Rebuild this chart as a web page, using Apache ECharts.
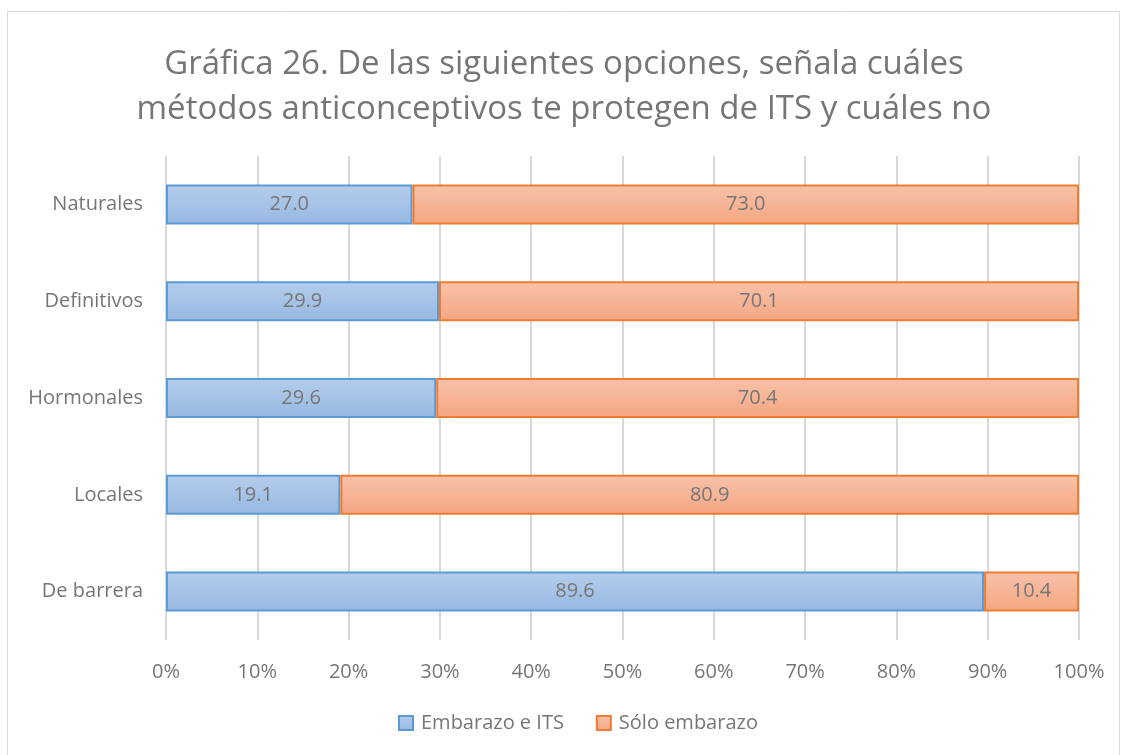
<!DOCTYPE html>
<html>
<head>
<meta charset="utf-8">
<script src="https://cdn.jsdelivr.net/npm/echarts@6/dist/echarts.min.js"></script>
<style>
  html, body { margin: 0; padding: 0; background: #fff; }
  #main { width: 1128px; height: 755px; }
</style>
</head>
<body>
<div id="main"></div>
<script>
// categorias (de abajo hacia arriba) y porcentajes
var categories = ['De barrera', 'Locales', 'Hormonales', 'Definitivos', 'Naturales'];
var embarazoITS = [89.6, 19.1, 29.6, 29.9, 27.0];
var soloEmbarazo = [10.4, 80.9, 70.4, 70.1, 73.0];
var seriesNames = ['Embarazo e ITS', 'Sólo embarazo'];

var txtColor = '#767676';
var font = '"Open Sans", "Noto Sans", sans-serif';

function grad(top, bottom) {
    return new echarts.graphic.LinearGradient(0, 0, 0, 1, [
        { offset: 0, color: top },
        { offset: 1, color: bottom }
    ]);
}

function valLabel(p) {
    return p.value.toFixed(1);
}

var myChart = echarts.init(document.getElementById('main'));

var option = {
    backgroundColor: '#fff',
    animation: false,
    textStyle: { fontFamily: font },
    graphic: [{
        type: 'rect',
        shape: { x: 7.5, y: 11.5, width: 1112, height: 760 },
        style: { fill: 'none', stroke: '#d9d9d9', lineWidth: 1 },
        silent: true
    }],
    title: {
        text: 'Gráfica 26. De las siguientes opciones, señala cuáles\nmétodos anticonceptivos te protegen de ITS y cuáles no',
        left: 'center',
        top: 37,
        textStyle: {
            color: txtColor,
            fontSize: 33,
            fontWeight: 'normal',
            lineHeight: 45,
            fontFamily: font
        }
    },
    legend: {
        bottom: 17,
        left: 393,
        icon: 'rect',
        itemWidth: 14,
        itemHeight: 14,
        itemGap: 32,
        textStyle: { color: txtColor, fontSize: 20, fontFamily: font, padding: [0, 0, 0, 3] },
        data: seriesNames
    },
    grid: {
        left: 166,
        right: 49,
        top: 156,
        bottom: 115,
        containLabel: false
    },
    xAxis: {
        type: 'value',
        min: 0,
        max: 100,
        interval: 10,
        axisLine: { show: false },
        axisTick: { show: false },
        axisLabel: {
            color: txtColor,
            fontSize: 20,
            margin: 22,
            formatter: '{value}%'
        },
        splitLine: { lineStyle: { color: '#d9d9d9', width: 2 } }
    },
    yAxis: {
        type: 'category',
        data: categories,
        axisLine: { show: false },
        axisTick: { show: false },
        axisLabel: { color: txtColor, fontSize: 20, margin: 23 }
    },
    series: [
        {
            name: seriesNames[0],
            type: 'bar',
            stack: 'total',
            barWidth: 40,
            data: embarazoITS,
            itemStyle: {
                color: grad('#b5cdec', '#97b8e2'),
                borderColor: '#5b9bd5',
                borderWidth: 2
            },
            label: {
                show: true,
                position: 'inside',
                color: txtColor,
                fontSize: 20,
                formatter: valLabel
            }
        },
        {
            name: seriesNames[1],
            type: 'bar',
            stack: 'total',
            barWidth: 40,
            data: soloEmbarazo,
            itemStyle: {
                color: grad('#f8c2aa', '#f4a682'),
                borderColor: '#ed7d31',
                borderWidth: 2
            },
            label: {
                show: true,
                position: 'inside',
                color: txtColor,
                fontSize: 20,
                formatter: valLabel
            }
        }
    ]
};

myChart.setOption(option);
</script>
</body>
</html>
